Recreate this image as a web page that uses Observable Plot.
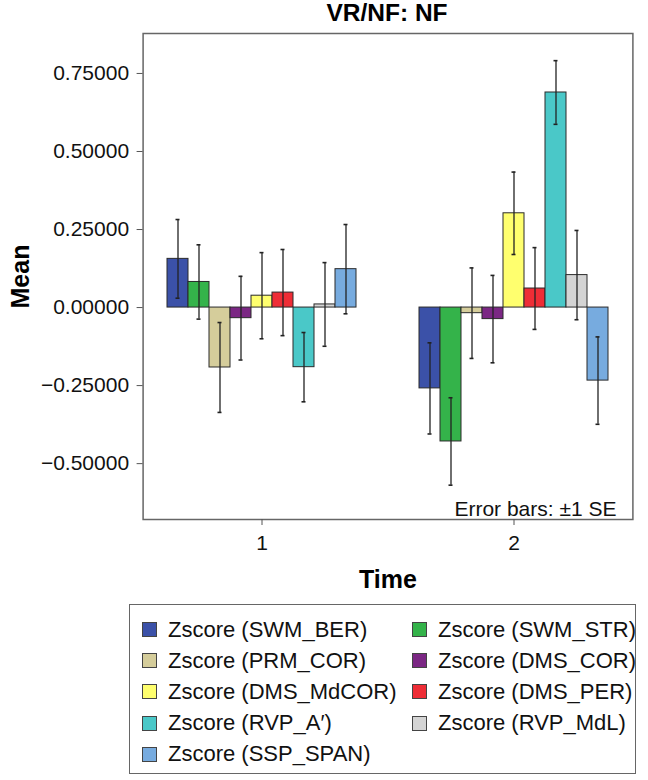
<!DOCTYPE html>
<html>
<head>
<meta charset="utf-8">
<script src="https://cdn.jsdelivr.net/npm/d3@7"></script>
<script src="https://cdn.jsdelivr.net/npm/@observablehq/plot@0.6"></script>
<style>
  body { margin: 0; background: #fff; font-family: "Liberation Sans", Arial, Helvetica, sans-serif; }
  #title { width: 648px; height: 30px; line-height: 25px; text-align: center; font-weight: bold; font-size: 24.5px; color: #000; padding-left: 126px; box-sizing: border-box; }
  #chart svg g[aria-label="fx-axis label"] text,
  #chart svg g[aria-label="y-axis label"] text { font-weight: bold; font-size: 25px; fill: #000; }
  #legend { margin-left: 129px; margin-top: 9px; width: 507px; height: 170px; border: 1.5px solid #666; box-sizing: border-box;
            display: grid; grid-template-columns: 270px 230px; grid-auto-rows: 31.2px; padding: 9px 0 0 12px; }
  .item { display: flex; align-items: center; font-size: 22px; color: #111; white-space: nowrap; }
  .sw { width: 13px; height: 13px; border: 1px solid #444; margin-right: 11px; flex: none; }
</style>
</head>
<body>
<div id="title">VR/NF: NF</div>
<div id="chart"></div>
<div id="legend"></div>
<script>
// ---- data ----
const times = ["1", "2"];
const measures = ["SWM_BER", "SWM_STR", "PRM_COR", "DMS_COR", "DMS_MdCOR", "DMS_PER", "RVP_A′", "RVP_MdL", "SSP_SPAN"];
const colors = ["#3b51a8", "#34b34a", "#d5cd9b", "#7b2784", "#ffff6e", "#ee2d36", "#4ac8c8", "#d4d4d4", "#77abdf"];
const meansT1 = [0.156, 0.082, -0.192, -0.034, 0.038, 0.048, -0.191, 0.010, 0.123];
const seT1    = [0.126, 0.119, 0.144, 0.134, 0.138, 0.138, 0.111, 0.134, 0.143];
const meansT2 = [-0.259, -0.429, -0.018, -0.037, 0.302, 0.061, 0.689, 0.104, -0.234];
const seT2    = [0.146, 0.140, 0.145, 0.140, 0.132, 0.131, 0.102, 0.143, 0.140];
const yTicks = [-0.5, -0.25, 0, 0.25, 0.5, 0.75];
const legendLabels = measures.map(m => `Zscore (${m})`);

const rows = [];
times.forEach((t, ti) => {
  const means = ti === 0 ? meansT1 : meansT2;
  const ses = ti === 0 ? seT1 : seT2;
  measures.forEach((m, i) => rows.push({time: t, measure: m, mean: means[i], lo: means[i] - ses[i], hi: means[i] + ses[i]}));
});

const fmt = d3.format(".5f");

const chart = Plot.plot({
  width: 648,
  height: 565,
  marginLeft: 142,
  marginRight: 16,
  marginTop: 3,
  marginBottom: 76,
  style: {fontFamily: '"Liberation Sans", Arial, sans-serif', fontSize: "21px", color: "#111", background: "#fff"},
  fx: {domain: times, paddingInner: 0.25, paddingOuter: 0.097, label: null},
  x: {domain: measures, padding: 0, axis: null},
  y: {domain: [-0.679, 0.878], label: null},
  color: {domain: measures, range: colors},
  marks: [
    Plot.frame({facet: "super", stroke: "#666", strokeWidth: 1.5, insetLeft: -24.4, insetRight: -24.4}),
    Plot.barY(rows, {fx: "time", x: "measure", y: "mean", fill: "measure", stroke: "#2a2a2a", strokeWidth: 1}),
    Plot.ruleX(rows, {fx: "time", x: "measure", y1: "lo", y2: "hi", stroke: "#222", strokeWidth: 1.3}),
    Plot.tickY(rows, {fx: "time", x: "measure", y: "lo", stroke: "#222", strokeWidth: 1.6, insetLeft: 8.5, insetRight: 8.5}),
    Plot.tickY(rows, {fx: "time", x: "measure", y: "hi", stroke: "#222", strokeWidth: 1.6, insetLeft: 8.5, insetRight: 8.5}),
    Plot.axisY({ticks: yTicks, tickFormat: fmt, tickSize: 6, tickPadding: 8, stroke: "#555", dx: -24.4, label: "Mean", labelAnchor: "center", labelArrow: "none", labelOffset: 156}),
    Plot.axisFx({anchor: "bottom", tickSize: 6, tickPadding: 10, stroke: "#555", label: "Time", labelAnchor: "center", labelArrow: "none", labelOffset: 68}),
    Plot.text(["Error bars: ±1 SE"], {fx: ["2"], frameAnchor: "bottom-right", text: d => d, dx: 8, dy: -4, fontSize: 21, fill: "#111"})
  ]
});
document.getElementById("chart").appendChild(chart);

// legend
const leg = document.getElementById("legend");
measures.forEach((m, i) => {
  const it = document.createElement("div");
  it.className = "item";
  const sw = document.createElement("span");
  sw.className = "sw";
  sw.style.background = colors[i];
  it.appendChild(sw);
  it.appendChild(document.createTextNode(legendLabels[i]));
  leg.appendChild(it);
});
</script>
</body>
</html>
